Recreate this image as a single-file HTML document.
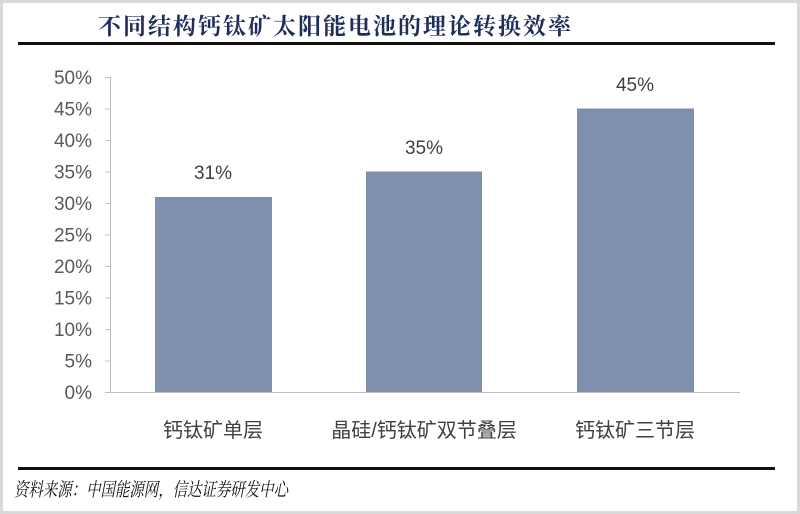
<!DOCTYPE html>
<html><head><meta charset="utf-8"><style>
body{margin:0;background:#fff;}
#c{position:relative;width:800px;height:514px;box-sizing:border-box;border:3px solid #d9d9d9;background:#fff;overflow:hidden;font-family:"Liberation Sans","Noto Sans CJK SC",sans-serif;}
</style></head><body><div id="c">
<svg width="794" height="508" viewBox="3 3 794 508" style="position:absolute;left:0;top:0" font-family="Liberation Sans, Noto Sans CJK SC, sans-serif">
<text x="98" y="34" font-size="23" font-weight="bold" fill="#1f2d5a" textLength="473" font-family="Noto Serif CJK SC, serif">不同结构钙钛矿太阳能电池的理论转换效率</text>
<rect x="18" y="42" width="757" height="3" fill="#111"/>
<g font-size="19" fill="#595959" text-anchor="end">
<text x="92" y="399">0%</text><text x="92" y="367.5">5%</text><text x="92" y="336">10%</text><text x="92" y="304.5">15%</text><text x="92" y="273">20%</text><text x="92" y="241.5">25%</text><text x="92" y="210">30%</text><text x="92" y="178.5">35%</text><text x="92" y="147">40%</text><text x="92" y="115.5">45%</text><text x="92" y="84">50%</text>
</g>
<g stroke="#bfbfbf" stroke-width="1">
<line x1="110.5" y1="77" x2="110.5" y2="392"/>
<line x1="110" y1="392.5" x2="740" y2="392.5"/>
<line x1="105" y1="77.5" x2="110" y2="77.5"/><line x1="105" y1="109" x2="110" y2="109"/><line x1="105" y1="140.5" x2="110" y2="140.5"/><line x1="105" y1="172" x2="110" y2="172"/><line x1="105" y1="203.5" x2="110" y2="203.5"/><line x1="105" y1="235" x2="110" y2="235"/><line x1="105" y1="266.5" x2="110" y2="266.5"/><line x1="105" y1="298" x2="110" y2="298"/><line x1="105" y1="329.5" x2="110" y2="329.5"/><line x1="105" y1="361" x2="110" y2="361"/><line x1="105" y1="392.5" x2="110" y2="392.5"/>
</g>
<g fill="#7f8fae">
<rect x="155" y="197" width="117" height="195"/>
<rect x="366" y="171.5" width="116" height="220.5"/>
<rect x="577" y="108.5" width="117" height="283.5"/>
</g>
<g font-size="19" fill="#404040" text-anchor="middle">
<text x="213" y="179">31%</text><text x="424" y="154">35%</text><text x="635" y="91">45%</text>
</g>
<g font-size="20" fill="#404040" text-anchor="middle">
<text x="213" y="437">钙钛矿单层</text><text x="424" y="437">晶硅/钙钛矿双节叠层</text><text x="635" y="437">钙钛矿三节层</text>
</g>
<rect x="18" y="467" width="757" height="3" fill="#111"/>
<text x="14" y="496" font-size="19" font-style="italic" fill="#111" textLength="274" lengthAdjust="spacingAndGlyphs" font-family="Noto Serif CJK SC, serif">资料来源：中国能源网，信达证券研发中心</text>
</svg>
</div></body></html>
